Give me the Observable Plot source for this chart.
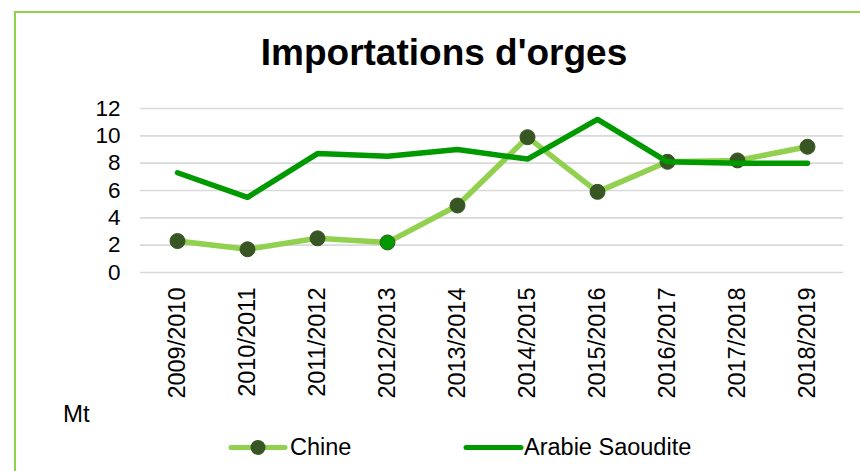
<!DOCTYPE html>
<html>
<head>
<meta charset="utf-8">
<script src="https://cdn.jsdelivr.net/npm/d3@7"></script>
<script src="https://cdn.jsdelivr.net/npm/@observablehq/plot@0.6"></script>
<style>
  html, body { margin: 0; padding: 0; background: #fff; overflow: hidden; }
  body { width: 860px; height: 471px; position: relative; font-family: "Liberation Sans", Arial, sans-serif; }
  #frame { position: absolute; left: 14px; top: 11px; width: 900px; height: 520px;
           border-left: 2px solid #92D050; border-top: 2px solid #92D050; box-sizing: border-box; }
  #title { position: absolute; left: 0; width: 888px; top: 31px; text-align: center;
           font-size: 37px; font-weight: bold; color: #000; line-height: 44px; }
  #chart { position: absolute; left: 0; top: 90px; }
  #unit { position: absolute; left: 63px; top: 400px; font-size: 24px; color: #000; line-height: 27px; }
  .leg { position: absolute; top: 434px; font-size: 23.5px; color: #000; line-height: 27px; display: flex; align-items: center; }
  .leg svg { display: block; }
</style>
</head>
<body>
<div id="frame"></div>
<div id="title">Importations d'orges</div>
<div id="chart"></div>
<div id="unit">Mt</div>
<div class="leg" style="left:228px"><svg width="60" height="27"><line x1="3" x2="57" y1="13.5" y2="13.5" stroke="#92D050" stroke-width="5" stroke-linecap="round"/><circle cx="30" cy="13.5" r="7.5" fill="#375623"/></svg><span style="margin-left:2px">Chine</span></div>
<div class="leg" style="left:463px"><svg width="61" height="27"><line x1="3" x2="58" y1="13.5" y2="13.5" stroke="#009A00" stroke-width="5" stroke-linecap="round"/></svg><span>Arabie Saoudite</span></div>
<script>
const campagnes = ["2009/2010","2010/2011","2011/2012","2012/2013","2013/2014","2014/2015","2015/2016","2016/2017","2017/2018","2018/2019"];
const chine = [2.3, 1.7, 2.5, 2.2, 4.9, 9.9, 5.9, 8.1, 8.2, 9.2];
const arabieSaoudite = [7.3, 5.5, 8.7, 8.5, 9.0, 8.3, 11.2, 8.1, 8.0, 8.0];
const yTicks = [0, 2, 4, 6, 8, 10, 12];

const dChine = campagnes.map((c, i) => ({campagne: c, value: chine[i], i}));
const dArabie = campagnes.map((c, i) => ({campagne: c, value: arabieSaoudite[i], i}));

const plot = Plot.plot({
  width: 860,
  height: 330,
  marginLeft: 140,
  marginRight: 17,
  marginTop: 18,
  marginBottom: 148,
  style: {fontFamily: "'Liberation Sans', Arial, sans-serif", fontSize: "22px", color: "#000", background: "transparent"},
  x: {type: "point", domain: campagnes, padding: 0.5},
  y: {domain: [0, 12]},
  marks: [
    Plot.gridY(yTicks, {stroke: "#d9d9d9", strokeOpacity: 1, strokeWidth: 1.6}),
    Plot.axisY(yTicks, {tickSize: 0, tickPadding: 20, label: null, fill: "#000", fontSize: 22.5}),
    Plot.axisX({tickSize: 0, tickPadding: 15, tickRotate: -90, label: null, fill: "#000", fontSize: 23.5}),
    Plot.line(dChine, {x: "campagne", y: "value", stroke: "#92D050", strokeWidth: 5.5, strokeLinejoin: "round", strokeLinecap: "round"}),
    Plot.dot(dChine, {x: "campagne", y: "value", r: 7.5, fill: d => d.i === 3 ? "green" : "dark", stroke: "#375623", strokeWidth: 1}),
    Plot.line(dArabie, {x: "campagne", y: "value", stroke: "#009A00", strokeWidth: 5.5, strokeLinejoin: "round", strokeLinecap: "round"})
  ],
  color: {domain: ["dark", "green"], range: ["#375623", "#009A00"]}
});
document.getElementById("chart").appendChild(plot);
</script>
</body>
</html>
